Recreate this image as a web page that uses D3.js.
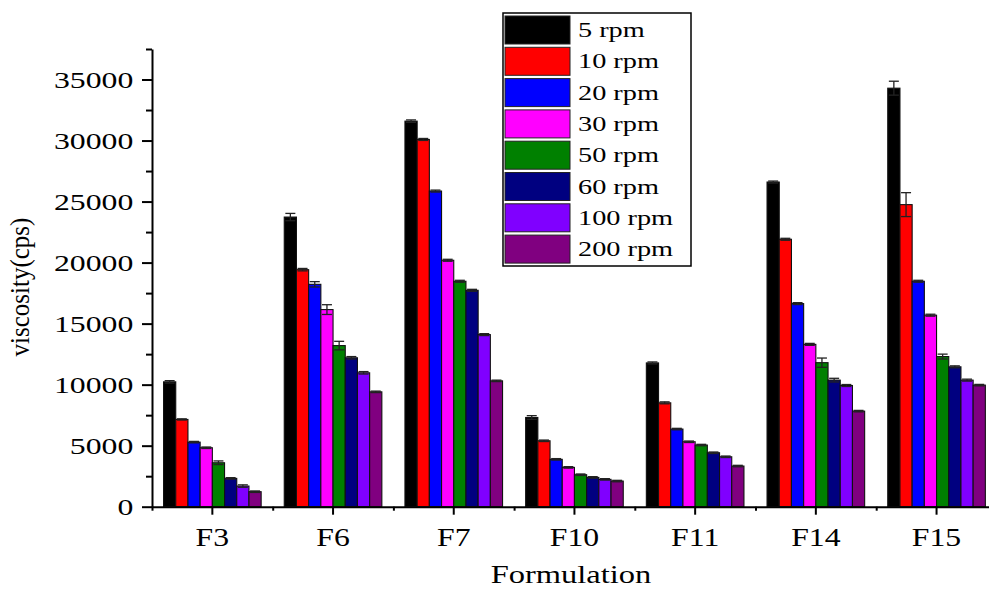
<!DOCTYPE html>
<html lang="en">
<head>
    <meta charset="UTF-8">
    <title>Viscosity by formulation</title>
    <script src="https://d3js.org/d3.v7.min.js"></script>
    <style>
        body { margin: 0; background: #fff; }
        svg text { font-family: "Liberation Serif", "Times New Roman", serif; fill: #000; }
    </style>
</head>
<body>
    <svg width="989" height="590"></svg>

    <script>
        // data
        const formulations = ["F3", "F6", "F7", "F10", "F11", "F14", "F15"];
        const speeds = ["5 rpm", "10 rpm", "20 rpm", "30 rpm", "50 rpm", "60 rpm", "100 rpm", "200 rpm"];
        const speedColors = ["#000000", "#ff0000", "#0000ff", "#ff00ff", "#008000", "#000080", "#8000ff", "#800080"];

        // one row per formulation, one value per speed
        const viscosity = [
            [10230, 7150, 5290, 4830, 3600, 2320, 1690, 1230],
            [23730, 19420, 18220, 16150, 13200, 12200, 10970, 9410],
            [31590, 30090, 25860, 20190, 18470, 17730, 14100, 10310],
            [7310, 5400, 3880, 3220, 2620, 2400, 2240, 2100],
            [11780, 8510, 6360, 5320, 5050, 4420, 4090, 3330],
            [26600, 21910, 16640, 13300, 11800, 10370, 9930, 7830],
            [34290, 24750, 18470, 15690, 12300, 11460, 10370, 9960]
        ];
        const errors = [
            [100, 50, 60, 60, 150, 60, 100, 60],
            [300, 100, 220, 400, 350, 100, 100, 60],
            [100, 80, 80, 80, 80, 80, 80, 60],
            [150, 60, 60, 60, 60, 60, 60, 60],
            [80, 80, 60, 60, 60, 60, 60, 60],
            [80, 80, 80, 80, 380, 150, 80, 60],
            [570, 980, 80, 80, 200, 80, 80, 60]
        ];
        const yMajorTicks = [0, 5000, 10000, 15000, 20000, 25000, 30000, 35000];
        const yMinorTicks = [2500, 7500, 12500, 17500, 22500, 27500, 32500, 37500];

        const svg = d3.select("svg");
        const stretch = 1.38;   // the original picture is wider than tall

        const x0 = d3.scaleBand().domain(formulations).range([152, 152 + 7 * 120.7]).padding(0);
        const x1 = d3.scaleBand().domain(speeds).range([-48.8, 48.8]);
        const xEdge = d3.scaleLinear().domain([0, 7]).range(x0.range());
        const y = d3.scaleLinear().domain([0, 37500]).range([506.7, 49]);
        const color = d3.scaleOrdinal().domain(speeds).range(speedColors);

        const rows = formulations.flatMap((f, i) => speeds.map((s, j) => ({
            f: f, s: s, v: viscosity[i][j], e: errors[i][j]
        })));

        // bars
        const bars = svg.append("g").attr("class", "bars");
        bars.selectAll("rect")
            .data(rows)
            .enter()
            .append("rect")
            .attr("x", d => x0(d.f) + x0.bandwidth() / 2 + x1(d.s))
            .attr("y", d => y(d.v))
            .attr("width", x1.bandwidth())
            .attr("height", d => y(0) - y(d.v))
            .attr("fill", d => color(d.s))
            .attr("stroke", "#111")
            .attr("stroke-width", 1.1);

        // error bars
        const err = svg.append("g").attr("class", "errors")
            .attr("stroke", "#222").attr("stroke-width", 1.3);
        const cx = d => x0(d.f) + x0.bandwidth() / 2 + x1(d.s) + x1.bandwidth() / 2;
        err.selectAll("line.stem").data(rows).enter().append("line")
            .attr("class", "stem")
            .attr("x1", cx).attr("x2", cx)
            .attr("y1", d => y(d.v - d.e)).attr("y2", d => y(d.v + d.e));
        err.selectAll("line.top").data(rows).enter().append("line")
            .attr("class", "top")
            .attr("x1", d => cx(d) - 5).attr("x2", d => cx(d) + 5)
            .attr("y1", d => y(d.v + d.e)).attr("y2", d => y(d.v + d.e));
        err.selectAll("line.bot").data(rows).enter().append("line")
            .attr("class", "bot")
            .attr("x1", d => cx(d) - 5).attr("x2", d => cx(d) + 5)
            .attr("y1", d => y(d.v - d.e)).attr("y2", d => y(d.v - d.e));

        // y axis
        const yAxisG = svg.append("g").attr("transform", "translate(152,0)");
        yAxisG.call(d3.axisLeft(y).tickValues(yMajorTicks).tickSize(10).tickSizeOuter(0).tickFormat(d3.format("d")));
        yAxisG.append("g").call(d3.axisLeft(y).tickValues(yMinorTicks).tickSize(6).tickFormat(""))
            .select(".domain").remove();
        yAxisG.selectAll("path, line").attr("stroke", "#000").attr("stroke-width", 2);
        yAxisG.selectAll("text")
            .attr("font-size", 23)
            .attr("font-family", "Liberation Serif")
            .attr("fill", "#000")
            .attr("transform", `scale(${stretch},1)`)
            .attr("x", -18.7 / stretch)
            .attr("dy", "0.34em");

        // x axis
        const xAxisG = svg.append("g").attr("transform", `translate(0,${y(0)})`);
        xAxisG.call(d3.axisBottom(x0).tickSize(8).tickSizeOuter(0));
        xAxisG.append("g").call(d3.axisBottom(xEdge).tickValues(d3.range(0, 7)).tickSize(4).tickFormat(""))
            .select(".domain").remove();
        xAxisG.selectAll("path, line").attr("stroke", "#000").attr("stroke-width", 2);
        xAxisG.selectAll("text")
            .attr("font-size", 26)
            .attr("font-family", "Liberation Serif")
            .attr("fill", "#000")
            .attr("transform", "scale(1.22,1)")
            .attr("y", 39)
            .attr("dy", 0);

        // axis titles
        svg.append("text")
            .attr("transform", "translate(571,583) scale(1.3,1)")
            .attr("text-anchor", "middle")
            .attr("font-size", 25)
            .text("Formulation");

        svg.append("text")
            .attr("transform", "translate(21,287) scale(1.05,1) rotate(-90)")
            .attr("text-anchor", "middle")
            .attr("dy", "0.32em")
            .attr("font-size", 25)
            .text("viscosity(cps)");

        // legend
        const legend = svg.append("g").attr("class", "legend");
        legend.append("rect")
            .attr("x", 503).attr("y", 13)
            .attr("width", 188).attr("height", 253)
            .attr("fill", "#fff").attr("stroke", "#000").attr("stroke-width", 1.5);
        const item = legend.selectAll("g.item")
            .data(speeds)
            .enter()
            .append("g")
            .attr("class", "item")
            .attr("transform", (d, i) => `translate(0,${16 + i * 31.3})`);
        item.append("rect")
            .attr("x", 505).attr("width", 65).attr("height", 28)
            .attr("fill", d => color(d))
            .attr("stroke", "#222").attr("stroke-width", 1);
        item.append("text")
            .attr("transform", `translate(578,21) scale(${stretch},1)`)
            .attr("font-size", 20.5)
            .text(d => d);
    </script>
</body>
</html>
